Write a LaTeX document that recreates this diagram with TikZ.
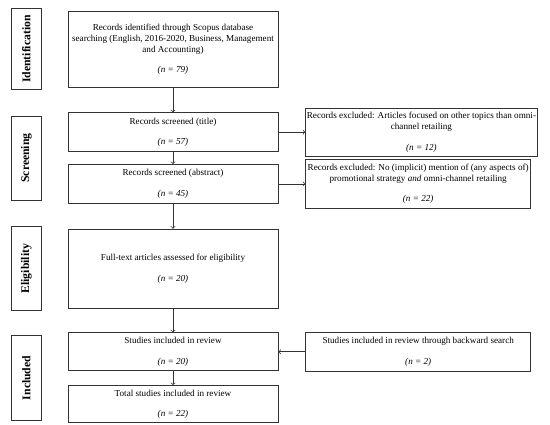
\documentclass[tikz,border=0pt]{standalone}
\usepackage{fontspec}
\setmainfont{Liberation Serif}
\usepackage{graphicx}
\usepackage{xcolor}
\usepackage{tikz}
\usetikzlibrary{shapes.geometric, arrows, positioning, calc}
\tikzstyle{stage} = [rectangle, minimum width=6.3cm, inner xsep=1pt, align=center, draw=black!80, fill=white, line width=0.6pt, font=\fontsize{7.8}{9.4}\selectfont]
\tikzstyle{excluded} = [stage, minimum width=6.75cm]
\tikzstyle{phase} = [rectangle, minimum width=0.9cm, inner sep=0pt, draw=black!80, line width=0.6pt, font=\fontsize{10}{12}\selectfont\bfseries]
\tikzstyle{arrow} = [->, >=to, line width=0.6pt, draw=black!80]

\begin{document}
\begin{tikzpicture}[node distance=0.75cm]
	\useasboundingbox (-5.19,1.47) rectangle (11.31,-11.25);
	% main flow
	\node (records) [stage, minimum height=2.28cm] {Records identified through Scopus database\\ searching (English, 2016-2020, Business, Management\\ and Accounting)\\[0.28cm] \textit{(n = 79)}};
	
	\node (title) [stage, below=0.75cm of records, minimum height=1.17cm] {Records screened (title)\\[0.28cm] \textit{(n = 57)}};
	
	\node (abstract) [stage, below=0.36cm of title, minimum height=1.17cm] {Records screened (abstract)\\[0.28cm] \textit{(n = 45)}};
	
	\node (fulltext) [stage, below=0.75cm of abstract, minimum height=2.37cm] {Full-text articles assessed for eligibility\\[0.28cm] \textit{(n = 20)}};
	
	\node (included) [stage, below=0.72cm of fulltext, minimum height=1.14cm] {Studies included in review\\[0.28cm] \textit{(n = 20)}};
	
	\node (total) [stage, below=0.42cm of included, minimum height=1.11cm] {Total studies included in review\\[0.28cm] \textit{(n = 22)}};
	
	% side boxes
	\node (excl-title) [excluded, right=0.81cm of title, minimum height=1.32cm] {Records excluded: Articles focused on other topics than omni-\\channel retailing\\[0.28cm] \textit{(n = 12)}};
	
	\node (excl-abstract) [excluded, right=0.81cm of abstract, minimum height=1.47cm] {Records excluded: No (implicit) mention of (any aspects of)\\promotional strategy \textit{and} omni-channel retailing\\[0.28cm] \textit{(n = 22)}};
	
	\node (backward) [excluded, right=0.81cm of included, minimum height=1.17cm] {Studies included in review through backward search\\[0.28cm] \textit{(n = 2)}};
	
	% phases
	\node (identification) [phase, left=0.78cm of records, minimum height=2.43cm] {\rotatebox{90}{Identification}};
	\node (screening) [phase, left=0.78cm of $(title.west)!0.5!(abstract.west)$, minimum height=2.52cm] {\rotatebox{90}{Screening}};
	\node (eligibility) [phase, left=0.78cm of fulltext, minimum height=2.52cm] {\rotatebox{90}{Eligibility}};
	\node (inclusion) [phase, left=0.78cm of $(included.west)!0.5!(total.west)$, minimum height=2.55cm] {\rotatebox{90}{Included}};
	
	% arrows
	\draw [arrow] (records) -- (title);
	\draw [arrow] (title) -- (abstract);
	\draw [arrow] (abstract) -- (fulltext);
	\draw [arrow] (fulltext) -- (included);
	\draw [arrow] (included) -- (total);
	\draw [arrow] (title) -- (excl-title);
	\draw [arrow] (abstract) -- (excl-abstract);
	\draw [arrow] (backward) -- (included);
\end{tikzpicture}
\end{document}
